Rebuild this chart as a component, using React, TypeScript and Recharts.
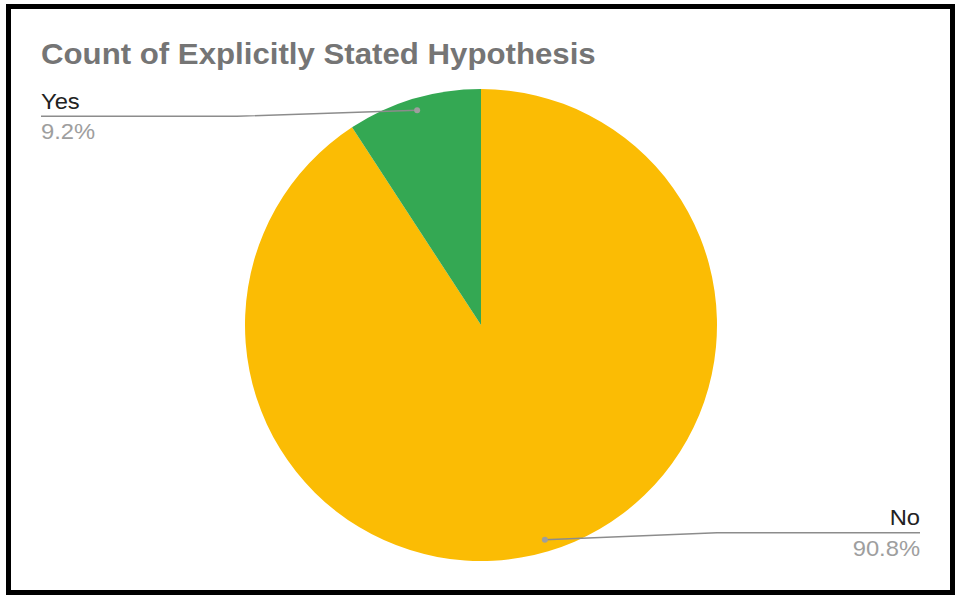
import React from 'react';
import { PieChart, Pie, Cell } from 'recharts';

// Share of papers with an explicitly stated hypothesis (percent)
const categories = ['No', 'Yes'];
const shares = [90.8, 9.2];
const sliceColors = ['#FBBC04', '#34A853'];

const data = categories.map((name, i) => ({ name, value: shares[i] }));

const WIDTH = 956;
const HEIGHT = 603;
const RADIAN = Math.PI / 180;
const FONT = '"Liberation Sans", Arial, sans-serif';
const STRETCH = 1.08; // text is set slightly wide

// Google-style callout: dot inside the slice, elbow, then a rule under the label
const renderCallout = (props: any) => {
  const { cx, cy, midAngle, outerRadius, percent, name, index } = props;
  const r = outerRadius - 12;
  const dx = cx + r * Math.cos(-midAngle * RADIAN);
  const dy = cy + r * Math.sin(-midAngle * RADIAN);
  const isLeft = dx < cx;
  const ruleY = dy + (isLeft ? 6 : -7);
  const elbowX = isLeft ? cx - outerRadius - 8 : cx + outerRadius;
  const edgeX = isLeft ? 41 : 920;
  const anchor = isLeft ? 'start' : 'end';
  return (
    <g key={`callout-${index}`}>
      <polyline
        points={`${dx},${dy} ${elbowX},${ruleY} ${edgeX},${ruleY}`}
        fill="none"
        stroke="#8c8c8c"
        strokeWidth={1.4}
      />
      <circle cx={dx} cy={dy} r={3} fill="#9e9e9e" />
      <text
        transform={`translate(${edgeX},${ruleY - 7.5}) scale(${STRETCH},1)`}
        textAnchor={anchor}
        fontFamily={FONT}
        fontSize={22}
        fill="#222222"
      >
        {name}
      </text>
      <text
        transform={`translate(${edgeX},${ruleY + 23}) scale(${STRETCH},1)`}
        textAnchor={anchor}
        fontFamily={FONT}
        fontSize={22}
        fill="#9e9e9e"
      >
        {`${(percent * 100).toFixed(1)}%`}
      </text>
    </g>
  );
};

export default function App() {
  return (
    <div
      style={{
        position: 'absolute',
        left: 0,
        top: 0,
        width: WIDTH,
        height: HEIGHT,
        background: '#ffffff',
        overflow: 'hidden',
      }}
    >
      {/* black frame */}
      <div
        style={{
          position: 'absolute',
          left: 6,
          top: 4,
          width: 949,
          height: 591,
          border: '5px solid #000',
          boxSizing: 'border-box',
        }}
      />
      <svg
        width={WIDTH}
        height={HEIGHT}
        style={{ position: 'absolute', left: 0, top: 0 }}
      >
        <text
          transform={`translate(41,63.5) scale(${STRETCH},1)`}
          fontFamily={FONT}
          fontSize={28.9}
          fontWeight="bold"
          fill="#757575"
        >
          Count of Explicitly Stated Hypothesis
        </text>
      </svg>
      <div style={{ position: 'absolute', left: 0, top: 0 }}>
        <PieChart
          width={WIDTH}
          height={HEIGHT}
          margin={{ top: 0, right: 0, bottom: 0, left: 0 }}
        >
          <Pie
            data={data}
            dataKey="value"
            nameKey="name"
            cx={481}
            cy={325}
            outerRadius={236}
            startAngle={90}
            endAngle={-270}
            stroke="none"
            labelLine={false}
            label={renderCallout}
            isAnimationActive={false}
          >
            {data.map((entry, i) => (
              <Cell key={entry.name} fill={sliceColors[i]} />
            ))}
          </Pie>
        </PieChart>
      </div>
    </div>
  );
}
